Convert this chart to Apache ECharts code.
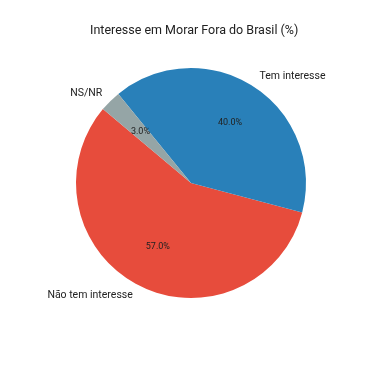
<!DOCTYPE html>
<html><head><meta charset="utf-8">
<script src="https://cdn.jsdelivr.net/npm/echarts@6/dist/echarts.min.js"></script>
<style>html,body{margin:0;padding:0;background:#fff}#c{width:375px;height:365px}</style>
</head><body><div id="c"></div>
<script>
const categories = ["Não tem interesse", "Tem interesse", "NS/NR"];
const values = [57.0, 40.0, 3.0];
const colors = ["#e74c3c", "#2980b9", "#95a5a6"];
const titleText = "Interesse em Morar Fora do Brasil (%)";

const R = 115;
const center = [191, 183];
const font = "Roboto, 'DejaVu Sans', sans-serif";
const data = categories.map((c, i) => ({ name: c, value: values[i], itemStyle: { color: colors[i] } }));

const chart = echarts.init(document.getElementById('c'), null, { renderer: 'canvas' });
chart.setOption({
  animation: false,
  title: { text: titleText, left: 85, top: 19, textStyle: { fontFamily: font, fontSize: 12.5, fontWeight: 'normal', color: '#222' } },
  series: [
    {
      type: 'pie', center: center, radius: [0, R], startAngle: 140, clockwise: false,
      avoidLabelOverlap: false, silent: true,
      data: data,
      itemStyle: { borderWidth: 0 },
      label: { show: true, position: 'outside', distanceToLabelLine: 0, fontFamily: font, fontSize: 10.5, color: '#222', formatter: '{b}' },
      labelLine: { show: false, length: 11.5, length2: 0 }
    },
    {
      type: 'pie', center: center, radius: [0, R * 1.2], startAngle: 140, clockwise: false,
      avoidLabelOverlap: false, silent: true, z: 5,
      data: categories.map((c, i) => ({ name: c, value: values[i], itemStyle: { color: 'rgba(0,0,0,0)' } })),
      itemStyle: { borderWidth: 0 },
      label: { show: true, position: 'inside', fontFamily: font, fontSize: 9, color: '#222',
        formatter: p => p.value.toFixed(1) + '%' },
      labelLine: { show: false }
    }
  ]
});
</script></body></html>
